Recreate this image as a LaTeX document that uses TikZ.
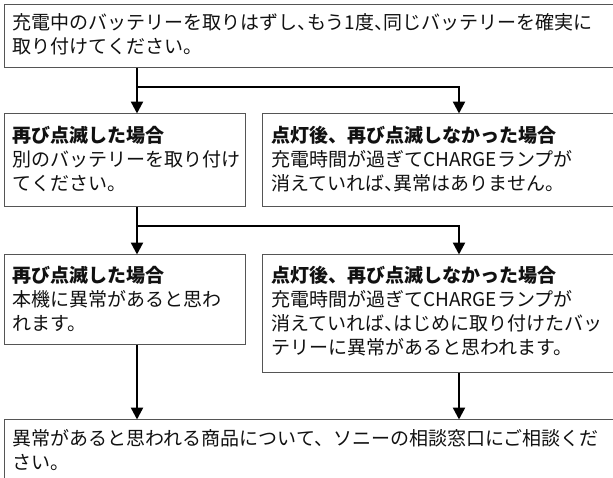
\documentclass[tikz,border=0pt]{standalone}
\usepackage{fontspec}
\newfontfamily\jp{Noto Sans CJK JP}
\usetikzlibrary{arrows.meta}
\definecolor{boxline}{HTML}{555555}
\definecolor{ink}{HTML}{111111}
\newcommand\halfcomma{\makebox[0.5em][l]{、}}
\tikzset{
  box/.style={draw=boxline, line width=1.4pt, fill=white, inner sep=0pt, anchor=north west},
  txt/.style={anchor=base west, inner sep=0pt, text=ink, font=\jp\fontsize{19}{24}\selectfont},
  hd/.style={txt, font=\jp\bfseries\fontsize{19}{24}\selectfont},
  link/.style={draw=black, line width=2.4pt},
  arr/.style={link, -{Triangle[width=12pt,length=12pt]}, shorten >=-0.5pt},
}
\begin{document}
\begin{tikzpicture}[x=1pt,y=-1pt]
\useasboundingbox (0,0) rectangle (613,477);
\clip (0,0) rectangle (613,477);
% boxes
\node[box, minimum width=630pt, minimum height=63pt] (top) at (4,4) {};
\node[box, minimum width=241pt, minimum height=93pt] (l2) at (4,113) {};
\node[box, minimum width=370pt, minimum height=93pt] (r2) at (262,113) {};
\node[box, minimum width=241pt, minimum height=90pt] (l3) at (4,254) {};
\node[box, minimum width=370pt, minimum height=118pt] (r3) at (262,254) {};
\node[box, minimum width=630pt, minimum height=80pt] (bot) at (4,419) {};
% connector columns and junctions
\coordinate (xL) at (137,0);
\coordinate (xR) at (459,0);
\coordinate (j1) at (0,87);
\coordinate (j2) at (0,226);
% connectors
\draw[arr] (top.south -| xL) -- (l2.north -| xL);
\draw[arr] (xL |- j1) -| (r2.north -| xR);
\draw[arr] (l2.south -| xL) -- (l3.north -| xL);
\draw[arr] (xL |- j2) -| (r3.north -| xR);
\draw[arr] (l3.south -| xL) -- (bot.north -| xL);
\draw[arr] (r3.south -| xR) -- (bot.north -| xR);
% texts
\node[txt] (t1) at (12.5,29) {充電中のバッテリーを取りはずし\halfcomma もう1度\halfcomma 同じバッテリーを確実に};
\node[txt] (t2) at (12.5,53) {取り付けてください。};
\node[hd]  (l2h) at (12.5,142) {再び点滅した場合};
\node[txt] (l2a) at (12.5,166) {別のバッテリーを取り付け};
\node[txt] (l2b) at (12.5,190) {てください。};
\node[hd]  (r2h) at (271,142) {点灯後、再び点滅しなかった場合};
\node[txt] (r2a) at (271,166) {充電時間が過ぎてCHARGEランプが};
\node[txt] (r2b) at (271,190) {消えていれば\halfcomma 異常はありません。};
\node[hd]  (l3h) at (12.5,282) {再び点滅した場合};
\node[txt] (l3a) at (12.5,306) {本機に異常があると思わ};
\node[txt] (l3b) at (12.5,330) {れます。};
\node[hd]  (r3h) at (271,282) {点灯後、再び点滅しなかった場合};
\node[txt] (r3a) at (271,306) {充電時間が過ぎてCHARGEランプが};
\node[txt] (r3b) at (271,330) {消えていれば\halfcomma はじめに取り付けたバッ};
\node[txt] (r3c) at (271,354) {テリーに異常があると思われます。};
\node[txt] (b1) at (12.5,445) {異常があると思われる商品について、ソニーの相談窓口にご相談くだ};
\node[txt] (b2) at (12.5,469) {さい。};
\end{tikzpicture}
\end{document}
